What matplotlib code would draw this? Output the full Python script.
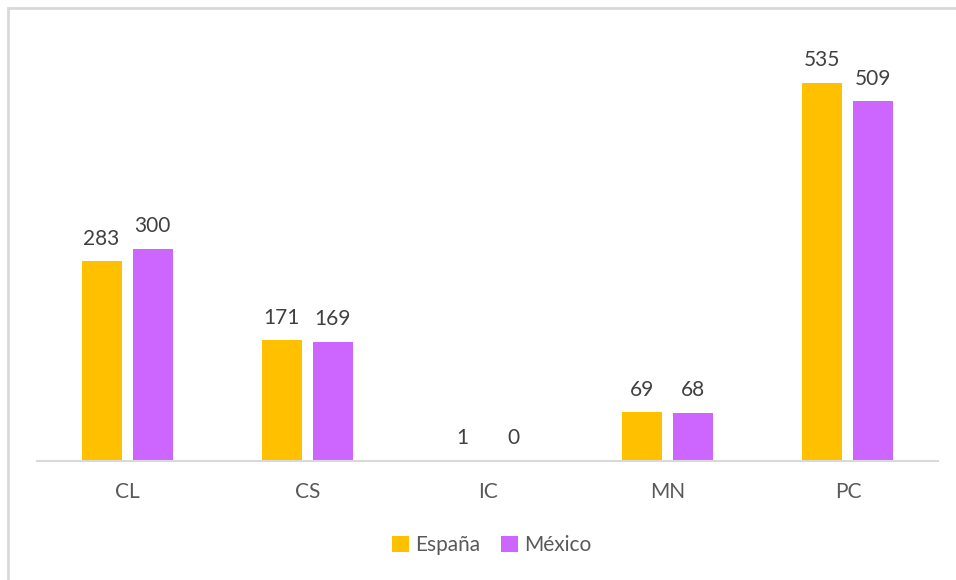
import numpy as np
import matplotlib.pyplot as plt
from matplotlib.patches import Rectangle

categories = ['CL', 'CS', 'IC', 'MN', 'PC']
espana = [283, 171, 1, 69, 535]
mexico = [300, 169, 0, 68, 509]

c_es = '#FFC000'
c_mx = '#CC66FF'

plt.rcParams['font.family'] = ['Lato', 'DejaVu Sans']

fig = plt.figure(figsize=(9.56, 5.8), dpi=100)
ax = fig.add_axes([37 / 956, 119 / 580, 901 / 956, 424 / 580])

x = np.arange(len(categories))
w = 0.222
off = 0.1416
b1 = ax.bar(x - off, espana, w, color=c_es, label='España')
b2 = ax.bar(x + off, mexico, w, color=c_mx, label='México')

for bars in (b1, b2):
    for r in bars:
        ax.annotate(f'{int(r.get_height())}', (r.get_x() + r.get_width() / 2, r.get_height()),
                    xytext=(0, 9), textcoords='offset points', ha='center', va='bottom',
                    fontsize=15, color='#404040')

ax.set_xlim(-0.5, len(categories) - 0.5)
ax.set_ylim(0, 600)
ax.set_yticks([])
ax.set_xticks(x)
ax.set_xticklabels(categories, fontsize=15, color='#595959')
ax.tick_params(axis='x', length=0, pad=15)
for s in ('top', 'right', 'left'):
    ax.spines[s].set_visible(False)
ax.spines['bottom'].set_color('#D9D9D9')
ax.spines['bottom'].set_linewidth(1.5)

leg = fig.legend(loc='center', bbox_to_anchor=(492 / 956, 1 - 545 / 580), ncol=2, frameon=False,
                 fontsize=15, handlelength=0.8, handleheight=0.8, handletextpad=0.3,
                 columnspacing=1.0, labelcolor='#595959')

# chart area outline (only top and left edges fall inside the canvas)
fig.add_artist(Rectangle((8 / 956, -0.1), 1.2, 1 - 8 / 580 + 0.1, transform=fig.transFigure,
                         fill=False, edgecolor='#D9D9D9', linewidth=2))

fig.savefig('out.png', dpi=100)
